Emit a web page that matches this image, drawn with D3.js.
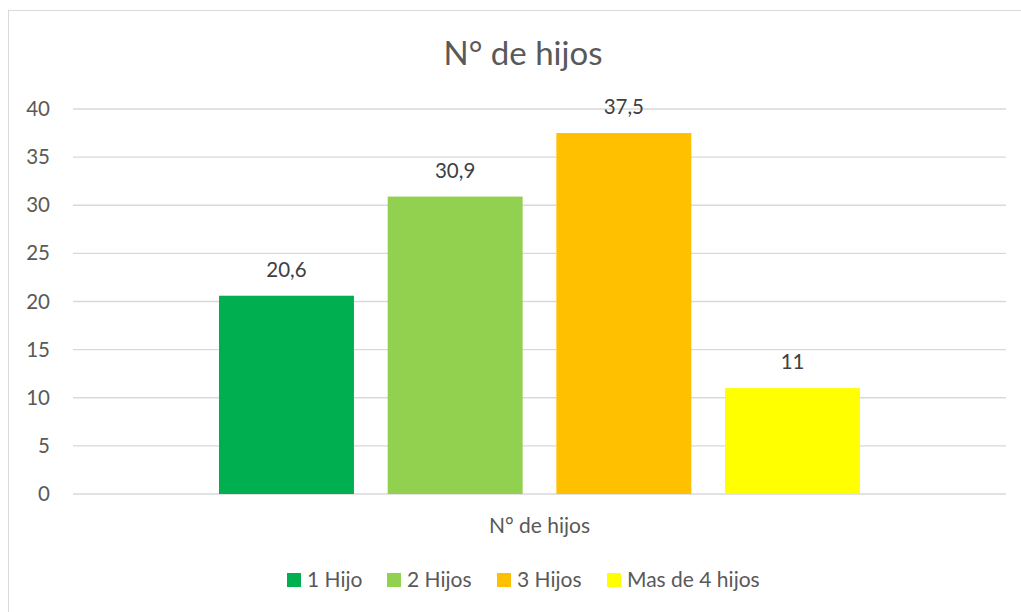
<!DOCTYPE html>
<html lang="es">
<head>
<meta charset="UTF-8">
<title>N° de hijos</title>
<script src="https://d3js.org/d3.v7.min.js"></script>
<style>
  body { margin: 0; background: #fff; }
  svg { display: block; font-family: Lato, 'Open Sans', sans-serif; }
</style>
</head>
<body>
<svg id="chart" width="1021" height="612"></svg>
<script>
// data
var categories = ["N° de hijos"];
var seriesNames = ["1 Hijo", "2 Hijos", "3 Hijos", "Mas de 4 hijos"];
var seriesValues = [20.6, 30.9, 37.5, 11];
var seriesColors = ["#00B050", "#92D050", "#FFC000", "#FFFF00"];
var yTicks = [0, 5, 10, 15, 20, 25, 30, 35, 40];

var svg = d3.select("#chart");
var plot = { left: 73, right: 1006, top: 109, bottom: 494 };

// chart frame (runs off the right and bottom edge)
svg.append("rect")
  .attr("x", 8.5).attr("y", 10.5).attr("width", 1040).attr("height", 640)
  .attr("fill", "#fff").attr("stroke", "#d9d9d9").attr("stroke-width", 1);

var y = d3.scaleLinear().domain([0, 40]).range([plot.bottom, plot.top]);
var x0 = d3.scaleBand().domain(categories).range([plot.left, plot.right]);
var outerGap = 146;
var x1 = d3.scaleBand().domain(seriesNames)
  .range([outerGap, x0.bandwidth() - outerGap])
  .paddingInner(0.2).paddingOuter(0);

// gridlines
svg.append("g").selectAll("line").data(yTicks).enter().append("line")
  .attr("x1", plot.left).attr("x2", plot.right)
  .attr("y1", d => y(d)).attr("y2", d => y(d))
  .attr("stroke", "#d9d9d9").attr("stroke-width", 1.3);

// y tick labels
svg.append("g").selectAll("text").data(yTicks).enter().append("text")
  .attr("x", 50).attr("y", d => y(d) + 7)
  .attr("text-anchor", "end")
  .attr("font-size", 20.5).attr("fill", "#595959")
  .text(d => d);

// bars
var data = seriesNames.map((s, i) => ({ name: s, value: seriesValues[i], color: seriesColors[i] }));
var g = svg.append("g").attr("transform", "translate(" + x0(categories[0]) + ",0)");
g.selectAll("rect").data(data).enter().append("rect")
  .attr("x", d => x1(d.name)).attr("width", x1.bandwidth())
  .attr("y", d => y(d.value)).attr("height", d => y(0) - y(d.value))
  .attr("fill", d => d.color);

// data labels
g.selectAll("text").data(data).enter().append("text")
  .attr("x", d => x1(d.name) + x1.bandwidth() / 2)
  .attr("y", d => y(d.value) - 19)
  .attr("text-anchor", "middle")
  .attr("font-size", 20.5).attr("fill", "#404040")
  .text(d => String(d.value).replace(".", ","));

// category label
svg.append("text")
  .attr("x", x0(categories[0]) + x0.bandwidth() / 2).attr("y", 533)
  .attr("text-anchor", "middle")
  .attr("font-size", 21).attr("fill", "#595959")
  .text(categories[0]);

// title
svg.append("text")
  .attr("x", 523).attr("y", 65)
  .attr("text-anchor", "middle")
  .attr("font-size", 33).attr("fill", "#595959")
  .text("N° de hijos");

// legend
var legendX = [287, 387, 497, 607];
var lg = svg.append("g").selectAll("g").data(data).enter().append("g")
  .attr("transform", (d, i) => "translate(" + legendX[i] + ",573)");
lg.append("rect").attr("width", 14).attr("height", 14).attr("fill", d => d.color);
lg.append("text").attr("x", 20).attr("y", 14)
  .attr("font-size", 21).attr("fill", "#595959")
  .text(d => d.name);
</script>
</body>
</html>
